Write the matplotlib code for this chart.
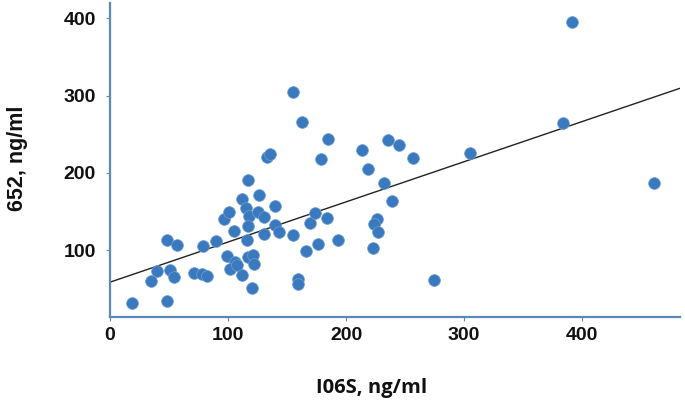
import matplotlib
matplotlib.use('agg')
import matplotlib.pyplot as plt
import numpy as np

# I06S (x) vs 652 (y), ng/ml
i06s = [18.6, 48.3, 34.7, 39.8, 50.8, 54.2, 48.3, 56.8, 71.2, 78.0,
        82.2, 78.8, 89.8, 96.6, 100.8, 111.9, 126.3, 116.9, 115.3, 117.8,
        125.4, 130.5, 139.8, 105.1, 116.9, 116.1, 130.5, 139.8, 143.2, 155.1,
        169.5, 166.1, 99.2, 105.9, 101.7, 107.6, 111.9, 116.9, 121.2, 122.0,
        120.3, 159.3, 159.3, 155.1, 162.7, 133.1, 135.6, 178.8, 173.7, 183.9,
        193.2, 176.3, 184.7, 213.6, 218.6, 235.6, 244.9, 256.8, 232.2, 239.0,
        226.3, 223.7, 227.1, 222.9, 274.6, 305.1, 383.9, 391.5, 461.0]
v652 = [31.2, 33.8, 59.7, 72.7, 74.0, 64.9, 113.0, 106.5, 70.1, 68.8,
        66.2, 105.2, 111.7, 140.3, 149.4, 166.2, 171.4, 190.9, 154.5, 144.2,
        149.4, 142.9, 157.1, 124.7, 131.2, 113.0, 120.8, 132.5, 123.4, 119.5,
        135.1, 98.7, 92.2, 84.4, 75.3, 80.5, 67.5, 90.9, 93.5, 81.8,
        50.6, 62.3, 55.8, 305.2, 266.2, 220.8, 224.7, 218.2, 148.1, 141.6,
        113.0, 107.8, 244.2, 229.9, 205.2, 242.9, 236.4, 219.5, 187.0, 163.6,
        140.3, 133.8, 123.4, 102.6, 61.0, 226.0, 264.9, 394.8, 187.0]

# regression line as drawn in the figure
fit_intercept = 58.4
fit_slope = 0.52

x_ticks = [0, 100, 200, 300, 400]
y_ticks = [100, 200, 300, 400]
x_max = 483
y_min, y_max = 13.3, 420

axis_color = '#5b88b9'
dot_color = '#3b79be'

fig = plt.figure(figsize=(6.85, 4.13), dpi=100)
ax = fig.add_axes([110/685, 96/413, 570/685, 314/413])

ax.scatter(i06s, v652, s=72, color=dot_color, edgecolors='#6e9fd2',
           linewidths=0.5, zorder=3)

xs = np.array([0, x_max])
ax.plot(xs, fit_intercept + fit_slope*xs, color='#222222', lw=1.0, zorder=2)

ax.set_xlim(0, x_max)
ax.set_ylim(y_min, y_max)
ax.set_xticks(x_ticks)
ax.set_yticks(y_ticks)

for s in ['top', 'right']:
    ax.spines[s].set_visible(False)
for s in ['left', 'bottom']:
    ax.spines[s].set_color(axis_color)
    ax.spines[s].set_linewidth(1.6)

ax.tick_params(axis='both', direction='out', length=3, width=0.8,
               color=axis_color, labelsize=14, labelcolor='#111111')
ax.tick_params(axis='x', pad=4)
ax.tick_params(axis='y', pad=7)
for lab in ax.get_xticklabels() + ax.get_yticklabels():
    lab.set_fontfamily('Liberation Sans')
    lab.set_fontweight('bold')

fig.text(18/685, 1 - 158/413, '652, ng/ml', rotation=90, ha='center',
         va='center', fontsize=15.5, fontweight='bold',
         fontfamily='Liberation Sans', color='#111111')
fig.text(372/685, 1 - 388/413, 'I06S, ng/ml', ha='center', va='center',
         fontsize=14.5, fontweight='bold', fontfamily='Open Sans',
         color='#111111')

plt.savefig('out.png', dpi=100)
plt.close()
